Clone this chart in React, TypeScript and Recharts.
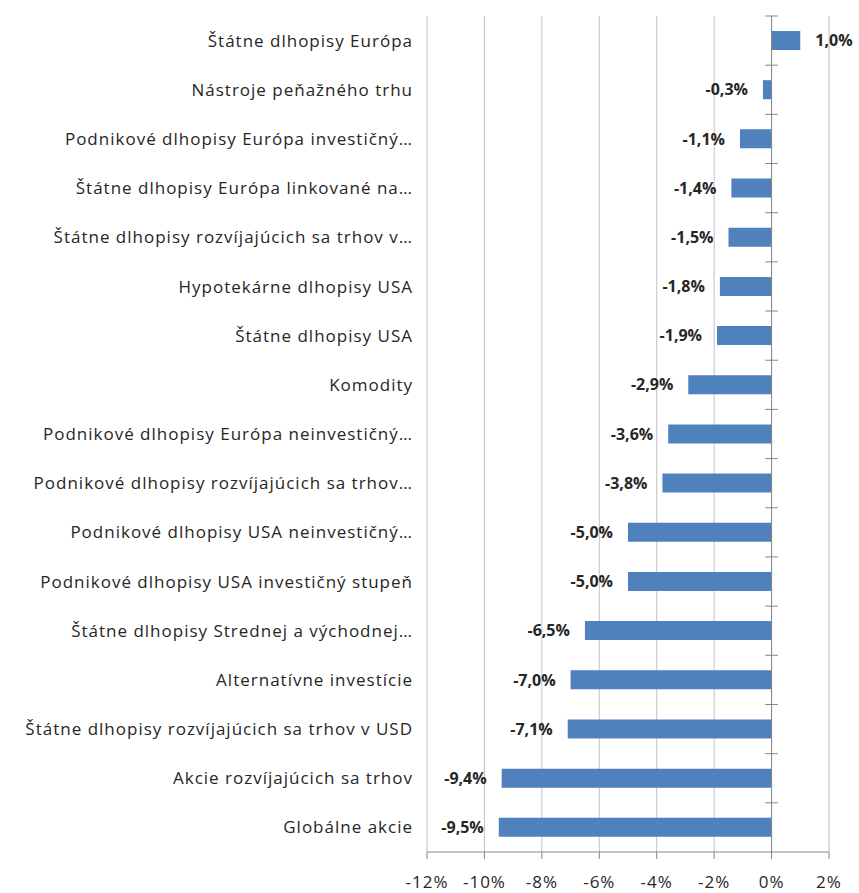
import React from "react";
import {
  BarChart,
  Bar,
  XAxis,
  YAxis,
  CartesianGrid,
  ReferenceLine,
  LabelList,
} from "recharts";

const categories = [
  "Štátne dlhopisy Európa",
  "Nástroje peňažného trhu",
  "Podnikové dlhopisy Európa investičný…",
  "Štátne dlhopisy Európa linkované na…",
  "Štátne dlhopisy rozvíjajúcich sa trhov v…",
  "Hypotekárne dlhopisy USA",
  "Štátne dlhopisy USA",
  "Komodity",
  "Podnikové dlhopisy Európa neinvestičný…",
  "Podnikové dlhopisy rozvíjajúcich sa trhov…",
  "Podnikové dlhopisy USA neinvestičný…",
  "Podnikové dlhopisy USA investičný stupeň",
  "Štátne dlhopisy Strednej a východnej…",
  "Alternatívne investície",
  "Štátne dlhopisy rozvíjajúcich sa trhov v USD",
  "Akcie rozvíjajúcich sa trhov",
  "Globálne akcie",
];

const returns = [
  1.0, -0.3, -1.1, -1.4, -1.5, -1.8, -1.9, -2.9, -3.6, -3.8, -5.0, -5.0, -6.5,
  -7.0, -7.1, -9.4, -9.5,
];

const xTicks = [-12, -10, -8, -6, -4, -2, 0, 2];

const data = categories.map((name, i) => ({ name, value: returns[i] }));

const FONT = "'Open Sans', sans-serif";
const TEXT = "#262626";
const AXIS = "#868686";

const pct = (v: number) => `${v.toFixed(1).replace(".", ",")}%`;

const ValueLabel = (props: any) => {
  const { x, y, width, height, value } = props;
  const left = Math.min(x, x + width);
  const right = Math.max(x, x + width);
  const neg = value < 0;
  return (
    <text
      x={neg ? left - 15 : right + 15}
      y={y + height / 2}
      dy="0.36em"
      textAnchor={neg ? "end" : "start"}
      fontFamily={FONT}
      fontSize={16}
      fontWeight={700}
      fill={TEXT}
    >
      {pct(value)}
    </text>
  );
};

export default function App() {
  return (
    <div style={{ width: 859, height: 893 }}>
      <style>{`body{margin:0}`}</style>
      <BarChart
        width={859}
        height={893}
        data={data}
        layout="vertical"
        margin={{ top: 16, right: 30, bottom: 5, left: 0 }}
        barSize={19}
      >
        <CartesianGrid horizontal={false} stroke="#c2c2c2" />
        <XAxis
          type="number"
          domain={[-12, 2]}
          ticks={xTicks}
          tickFormatter={(v: number) => `${v}%`}
          height={36}
          stroke={AXIS}
          tickSize={7}
          tickMargin={17}
          tick={{ fill: TEXT, fontFamily: FONT, fontSize: 17, letterSpacing: 1 }}
          interval={0}
        />
        <YAxis
          type="category"
          dataKey="name"
          width={427}
          axisLine={false}
          tickLine={false}
          tickMargin={8}
          interval={0}
          tick={{ fill: TEXT, fontFamily: FONT, fontSize: 17, letterSpacing: 1 }}
        />
        <ReferenceLine x={0} stroke={AXIS} />
        {categories.map((c) => (
          <ReferenceLine
            key={c}
            segment={[
              { x: -0.22, y: c },
              { x: 0.22, y: c },
            ]}
            position="start"
            stroke={AXIS}
          />
        ))}
        <Bar dataKey="value" fill="#4f81bd" isAnimationActive={false}>
          <LabelList dataKey="value" content={ValueLabel} />
        </Bar>
      </BarChart>
    </div>
  );
}
